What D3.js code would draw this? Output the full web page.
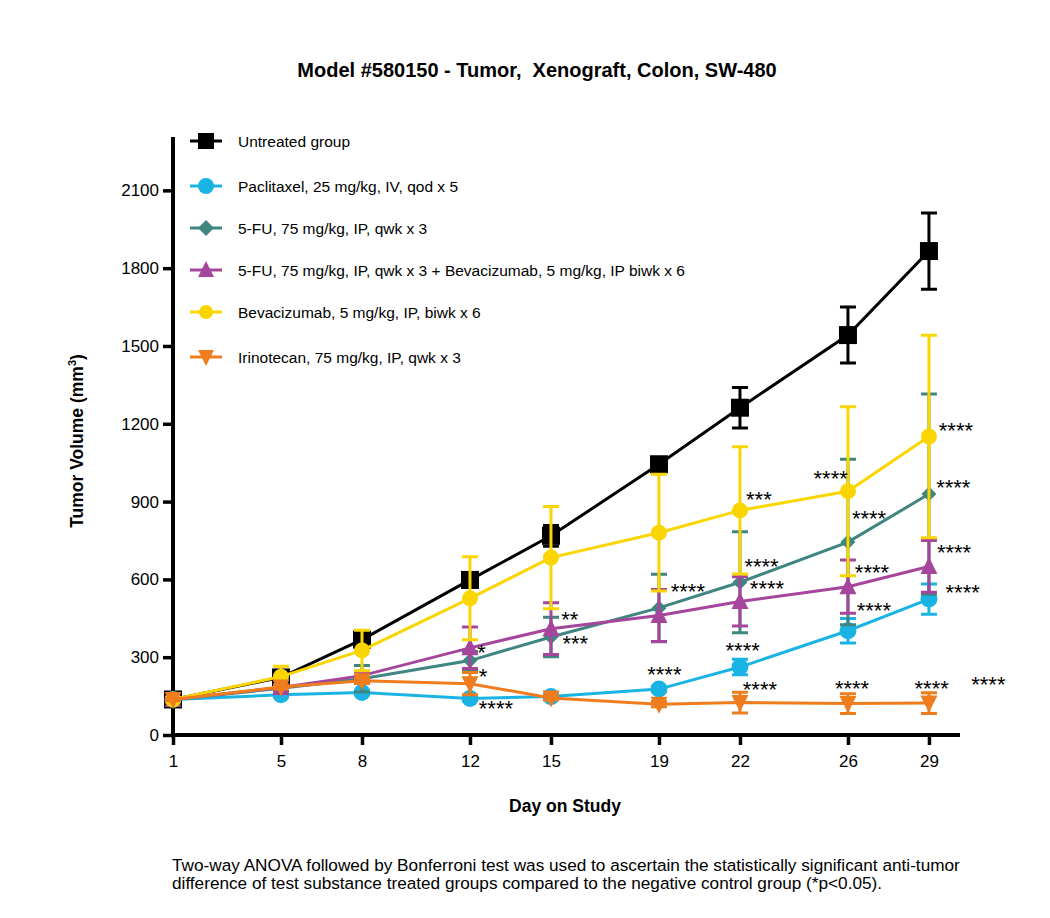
<!DOCTYPE html>
<html>
<head>
<meta charset="utf-8">
<script src="https://cdn.jsdelivr.net/npm/d3@7"></script>
<style>
  body { margin: 0; background: #fff; }
  svg { font-family: "Liberation Sans", Arial, sans-serif; }
</style>
</head>
<body>
<div id="chart"></div>
<script>
// Data
const days = [1, 5, 8, 12, 15, 19, 22, 26, 29];
const yTicks = [0, 300, 600, 900, 1200, 1500, 1800, 2100];

const groupNames = [
  "Untreated group",
  "Paclitaxel, 25 mg/kg, IV, qod x 5",
  "5-FU, 75 mg/kg, IP, qwk x 3",
  "5-FU, 75 mg/kg, IP, qwk x 3 + Bevacizumab, 5 mg/kg, IP biwk x 6",
  "Bevacizumab, 5 mg/kg, IP, biwk x 6",
  "Irinotecan, 75 mg/kg, IP, qwk x 3"
];

const untreatedMean = [137, 222, 368, 598, 768, 1044, 1262, 1542, 1866];
const untreatedErr  = [10, 18, 30, 28, 40, 20, 78, 108, 147];
const paclitaxelMean = [137, 155, 164, 141, 148, 177, 262, 402, 524];
const paclitaxelErr  = [5, 8, 8, 8, 8, 10, 30, 47, 58];
const fuMean = [137, 180, 217, 287, 378, 490, 589, 744, 929];
const fuErr  = [5, 10, 51, 35, 76, 130, 195, 319, 386];
const comboMean = [137, 183, 229, 336, 410, 461, 515, 572, 650];
const comboErr  = [5, 10, 15, 80, 100, 100, 95, 103, 100];
const bevMean = [137, 225, 326, 527, 684, 780, 866, 940, 1151];
const bevErr  = [8, 40, 78, 160, 197, 225, 245, 326, 390];
const irinoMean = [137, 185, 209, 198, 143, 119, 125, 121, 123];
const irinoErr  = [5, 8, 10, 43, 8, 10, 40, 38, 40];

// significance marks: [day, volume, label]
const stars = [
  [12.43, 336, "*"], [12.48, 244, "*"], [12.96, 120, "****"],
  [15.7, 462, "**"], [15.9, 369, "***"],
  [20.07, 572, "****"], [19.2, 249, "****"],
  [22.7, 927, "***"], [22.8, 668, "****"], [23.0, 582, "****"], [22.1, 343, "****"], [22.74, 194, "****"],
  [25.36, 1006, "****"], [26.78, 854, "****"], [26.89, 644, "****"], [26.96, 498, "****"], [26.15, 198, "****"],
  [30.0, 1192, "****"], [29.9, 970, "****"], [29.93, 722, "****"], [30.25, 566, "****"], [29.1, 198, "****"], [31.2, 213, "****"]
];

const means = [untreatedMean, paclitaxelMean, fuMean, comboMean, bevMean, irinoMean];
const errs = [untreatedErr, paclitaxelErr, fuErr, comboErr, bevErr, irinoErr];
const colors = ["#000000", "#1ab4e4", "#3f8580", "#a5469c", "#fbd500", "#ef7d1e"];
const shapes = ["square", "circle", "diamond", "triangle", "circle", "triangleDown"];

const width = 1050, height = 918;
const svg = d3.select("#chart").append("svg")
  .attr("width", width)
  .attr("height", height);

const x = d3.scaleLinear().domain([1, 30.15]).range([173, 960]);
const y = d3.scaleLinear().domain([0, 2300]).range([735, 138.5]);

// marker path builder
function marker(shape, s) {
  const h = s / 2;
  switch (shape) {
    case "square": return `M${-h},${-h}H${h}V${h}H${-h}Z`;
    case "circle": return d3.symbol(d3.symbolCircle, Math.PI * h * h)();
    case "diamond": return `M0,${-h}L${h},0L0,${h}L${-h},0Z`;
    case "triangle": return `M0,${-h - 1}L${h},${h - 1}L${-h},${h - 1}Z`;
    case "triangleDown": return `M0,${h + 1}L${h},${-h + 1}L${-h},${-h + 1}Z`;
  }
}
const markerSize = [18, 17, 15, 17, 16, 17];

// title
svg.append("text")
  .attr("x", 537).attr("y", 77)
  .attr("text-anchor", "middle")
  .style("font-size", "20px").style("font-weight", "bold")
  .style("white-space", "pre")
  .text("Model #580150 - Tumor,  Xenograft, Colon, SW-480");

// axes
const xAxis = svg.append("g")
  .attr("transform", "translate(0,735)")
  .call(d3.axisBottom(x).tickValues(days).tickSize(10).tickPadding(10).tickSizeOuter(0));
const yAxis = svg.append("g")
  .attr("transform", "translate(173,0)")
  .call(d3.axisLeft(y).tickValues(yTicks).tickFormat(d3.format("d"))
    .tickSize(10).tickPadding(4).tickSizeOuter(0));
[xAxis, yAxis].forEach(g => {
  g.select(".domain").attr("stroke-width", 4).attr("stroke", "#000");
  g.selectAll(".tick line").attr("stroke-width", 3.5).attr("stroke", "#000");
  g.selectAll(".tick text").style("font-size", "17px").attr("fill", "#000");
});
xAxis.select(".domain").attr("d", "M171,0H960");
yAxis.select(".domain").attr("d", "M0,137V737");

// axis titles
svg.append("text")
  .attr("x", 565).attr("y", 812)
  .attr("text-anchor", "middle")
  .style("font-size", "17.5px").style("font-weight", "bold")
  .text("Day on Study");

const yl = svg.append("text")
  .attr("transform", "translate(83,441) rotate(-90)")
  .attr("text-anchor", "middle")
  .style("font-size", "17.5px").style("font-weight", "bold");
yl.append("tspan").text("Tumor Volume (mm");
yl.append("tspan").attr("dy", -7).style("font-size", "11px").text("3");
yl.append("tspan").attr("dy", 7).text(")");

// series
means.forEach((m, i) => {
  const pts = days.map((d, j) => ({ d, v: m[j], e: errs[i][j] }));
  const g = svg.append("g");
  const cap = 8;
  g.selectAll(".err").data(pts).join("path")
    .attr("d", p => `M${x(p.d)},${y(p.v - p.e)}V${y(p.v + p.e)}` +
      `M${x(p.d) - cap},${y(p.v + p.e)}H${x(p.d) + cap}` +
      `M${x(p.d) - cap},${y(p.v - p.e)}H${x(p.d) + cap}`)
    .attr("fill", "none")
    .attr("stroke", colors[i])
    .attr("stroke-width", 3);
  g.append("path")
    .datum(pts)
    .attr("d", d3.line().x(p => x(p.d)).y(p => y(p.v)))
    .attr("fill", "none")
    .attr("stroke", colors[i])
    .attr("stroke-width", 3);
  g.selectAll(".mk").data(pts).join("path")
    .attr("transform", p => `translate(${x(p.d)},${y(p.v)})`)
    .attr("d", marker(shapes[i], markerSize[i]))
    .attr("fill", colors[i]);
});

// stars
svg.append("g").selectAll("text").data(stars).join("text")
  .attr("x", s => x(s[0]))
  .attr("y", s => y(s[1]) + 12)
  .attr("text-anchor", "middle")
  .style("font-size", "22px")
  .text(s => s[2]);

// legend
const legendY = [141, 186, 228, 270, 312, 357];
const lg = svg.append("g").selectAll("g").data(groupNames).join("g")
  .attr("transform", (n, i) => `translate(0,${legendY[i]})`);
lg.append("line")
  .attr("x1", 190).attr("x2", 222)
  .attr("stroke", (n, i) => colors[i])
  .attr("stroke-width", 3);
lg.append("path")
  .attr("transform", "translate(206,0)")
  .attr("d", (n, i) => marker(shapes[i], i === 4 ? 14 : 16))
  .attr("fill", (n, i) => colors[i]);
lg.append("text")
  .attr("x", 238).attr("y", 5.5)
  .style("font-size", "15.5px")
  .text(n => n);

// footnote
const foot = svg.append("text")
  .attr("x", 172).attr("y", 871)
  .style("font-size", "17.2px");
foot.append("tspan").attr("x", 172).text("Two-way ANOVA followed by Bonferroni test was used to ascertain the statistically significant anti-tumor");
foot.append("tspan").attr("x", 172).attr("dy", 18).text("difference of test substance treated groups compared to the negative control group (*p<0.05).");
</script>
</body>
</html>
